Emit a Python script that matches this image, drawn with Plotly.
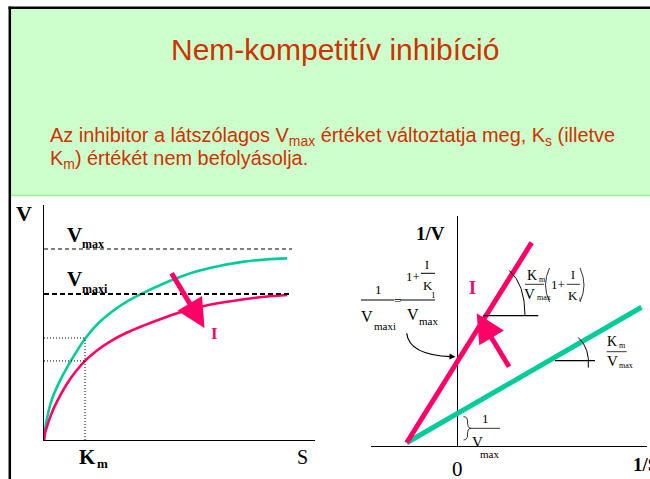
import plotly.graph_objects as go

# Michaelis-Menten curves (left): S in units of Km, V in units of Vmax
s_values = [0, 0.03, 0.08, 0.16, 0.24, 0.4, 0.57, 0.75, 1.0, 1.3, 1.63, 2.0, 2.44, 2.85,
            3.25, 3.65, 4.07, 4.88, 5.4, 5.93]
v_without_inhibitor = [0, 0.06, 0.12, 0.19, 0.24, 0.315, 0.383, 0.448, 0.530, 0.606, 0.668,
                       0.722, 0.772, 0.813, 0.848, 0.878, 0.902, 0.934, 0.945, 0.951]
v_with_inhibitor = [0, 0.04, 0.075, 0.125, 0.167, 0.235, 0.297, 0.352, 0.414, 0.47, 0.518,
                    0.56, 0.6, 0.634, 0.664, 0.688, 0.709, 0.737, 0.75, 0.759]
vmax = 1.0
vmax_i = 0.764
km = 1.0
v_at_km = 0.534
vi_at_km = 0.414
s_end = 6.05

# Lineweaver-Burk lines (right)
inv_s_without = [-1.0, 3.64]
inv_v_without = [0.1, 4.23]
inv_s_with = [-1.0, 1.47]
inv_v_with = [0.1, 6.20]

W, H = 650, 479
GREEN = "#00cc99"
PINK = "#ff0066"
RED_TXT = "#cc3300"
SERIF = "Liberation Serif"
SANS = "Liberation Sans"


def px(x):
    return x / W


def py(y):
    return 1 - y / H


def seg(x0, y0, x1, y1, w=1, color="black"):
    return dict(type="line", xref="paper", yref="paper",
                x0=px(x0), y0=py(y0), x1=px(x1), y1=py(y1),
                line=dict(color=color, width=w))


def curve(pts, w=1):
    # pts: start, then (control, end) pairs for quadratic beziers
    d = f"M {px(pts[0][0])},{py(pts[0][1])}"
    for i in range(1, len(pts), 2):
        c, e = pts[i], pts[i + 1]
        d += f" Q {px(c[0])},{py(c[1])} {px(e[0])},{py(e[1])}"
    return dict(type="path", xref="paper", yref="paper", path=d,
                line=dict(color="black", width=w))


def label(x, y, text, size, color="black", family=SERIF, xanchor="center", yanchor="middle"):
    return dict(x=px(x), y=py(y), xref="paper", yref="paper", text=text, showarrow=False,
                xanchor=xanchor, yanchor=yanchor, font=dict(size=size, color=color, family=family))


fig = go.Figure()

# left: V vs S
fig.add_trace(go.Scatter(x=s_values, y=v_without_inhibitor, mode="lines", line_shape="spline",
                         line=dict(color=GREEN, width=2.6), xaxis="x", yaxis="y"))
fig.add_trace(go.Scatter(x=s_values, y=v_with_inhibitor, mode="lines", line_shape="spline",
                         line=dict(color=PINK, width=2.6), xaxis="x", yaxis="y"))
fig.add_trace(go.Scatter(x=[0, s_end], y=[vmax, vmax], mode="lines",
                         line=dict(color="black", width=1.2, dash="4px,3px"), xaxis="x", yaxis="y"))
fig.add_trace(go.Scatter(x=[0, s_end], y=[vmax_i, vmax_i], mode="lines",
                         line=dict(color="black", width=2, dash="5px,3px"), xaxis="x", yaxis="y"))
fig.add_trace(go.Scatter(x=[km, km], y=[0, v_at_km], mode="lines",
                         line=dict(color="black", width=1, dash="1px,2px"), xaxis="x", yaxis="y"))
for v in [v_at_km, vi_at_km]:
    fig.add_trace(go.Scatter(x=[0, km], y=[v, v], mode="lines",
                             line=dict(color="black", width=1, dash="1px,2px"), xaxis="x", yaxis="y"))

# right: 1/V vs 1/S
fig.add_trace(go.Scatter(x=inv_s_without, y=inv_v_without, mode="lines",
                         line=dict(color=GREEN, width=5), xaxis="x2", yaxis="y2"))
fig.add_trace(go.Scatter(x=inv_s_with, y=inv_v_with, mode="lines",
                         line=dict(color=PINK, width=5), xaxis="x2", yaxis="y2"))

shapes = [
    dict(type="rect", xref="paper", yref="paper", x0=px(9), x1=px(650), y0=py(195), y1=py(7),
         fillcolor="#ccffcc", line=dict(width=0), layer="below"),
    seg(9, 195.5, 650, 195.5, 1.5, "#99ee99"),
    seg(8.5, 7.8, 650, 7.8, 2.5),
    seg(9.8, 6.5, 9.8, 479, 2.5),
    # formula on the left of the LB plot
    seg(361, 300, 394.3, 300),
    seg(400, 300, 435, 300),
    seg(421, 273.3, 435, 273.3),
    curve([(406.7, 333.3), (409, 355), (451, 356.7)], 1.2),
    # slope marks
    seg(483.3, 315.7, 538.3, 315.7, 1.2),
    curve([(509.3, 270.5), (525, 284), (525, 315.7)], 1),
    seg(555, 360.7, 595, 360.7, 1.2),
    curve([(578.3, 337.5), (590, 348), (588.3, 367.7)], 1),
    # Km/Vmax (1 + I/Ki)
    seg(525, 284.3, 544, 284.3, 0.8),
    seg(566.7, 284.3, 580, 284.3, 0.8),
    curve([(549.5, 268), (541.5, 285), (549.5, 302)], 0.8),
    curve([(580, 268), (588, 285), (580, 302)], 0.8),
    # Km/Vmax
    seg(606.7, 351.7, 626.7, 351.7, 0.8),
    # } 1/Vmax
    curve([(463.5, 416.7), (467.5, 416.7), (467.5, 421), (467.5, 428.3), (470.5, 428.3)], 0.8),
    curve([(470.5, 428.3), (467.5, 428.3), (467.5, 435), (467.5, 440), (463.5, 440)], 0.8),
    seg(470, 428.3, 500, 428.3, 0.8),
]

annotations = [
    label(335, 49.6, "Nem-kompetitív inhibíció", 30, RED_TXT, SANS),
    label(48, 122.3, "Az inhibitor a látszólagos V<sub>max</sub> értéket változtatja meg, K<sub>s</sub> (illetve",
          19.9, RED_TXT, SANS, xanchor="left", yanchor="top"),
    label(48, 144.9, "K<sub>m</sub>) értékét nem befolyásolja.", 19.9, RED_TXT, SANS,
          xanchor="left", yanchor="top"),
    # left plot labels
    label(23.7, 213, "<b>V</b>", 22),
    label(74.2, 234.5, "<b>V</b>", 21),
    label(79.5, 244, "<b>max</b>", 12, xanchor="left"),
    label(74.2, 279.2, "<b>V</b>", 21),
    label(79.5, 288.5, "<b>maxi</b>", 12, xanchor="left"),
    label(87.5, 457.3, "<b>K</b>", 21),
    label(94.5, 463.5, "<b>m</b>", 13, xanchor="left"),
    label(302.5, 457.3, "S", 20),
    label(214, 333, "<b>I</b>", 17, PINK),
    # right plot labels
    label(430, 233, "<b>1/V</b>", 19),
    label(473, 288.3, "<b>I</b>", 18, PINK),
    label(457.2, 468.5, "0", 21),
    label(631, 464, "<b>1/S</b>", 19, xanchor="left"),
    # 1/Vmaxi = (1 + I/K1)/Vmax
    label(378, 289, "1", 13),
    label(366.7, 316, "V", 16),
    label(371.5, 326, "maxi", 11, xanchor="left"),
    label(397.2, 300.5, "=", 13),
    label(413.3, 276, "1+", 13),
    label(426.5, 264.5, "I", 12),
    label(428, 285, "K", 13),
    label(433, 295, "1", 9),
    label(413, 314.8, "V", 16),
    label(416.5, 320.5, "max", 11, xanchor="left"),
    # Km/Vmax (1 + I/Ki)
    label(531.7, 275.3, "K", 14),
    label(536.5, 279, "m", 8, xanchor="left"),
    label(529.7, 293.8, "V", 15),
    label(534.5, 297.8, "max", 8, xanchor="left"),
    label(558.3, 284.2, "1+", 13),
    label(572.8, 275.3, "I", 12),
    label(573, 295, "K", 13),
    label(577.3, 298.5, "i", 6, xanchor="left"),
    # Km/Vmax
    label(611.7, 341.7, "K", 14),
    label(616.5, 345.5, "m", 8, xanchor="left"),
    label(612, 361, "V", 15),
    label(616.5, 365.2, "max", 8, xanchor="left"),
    # 1/Vmax
    label(485.8, 418, "1", 13),
    label(477.5, 441.5, "V", 15),
    label(478.3, 454, "max", 11, xanchor="left"),
    # arrows
    dict(x=px(204.5), y=py(328), xref="paper", yref="paper", ax=-33.8, ay=-56.3, text="",
         showarrow=True, arrowhead=2, arrowsize=1.15, arrowwidth=5, arrowcolor=PINK),
    dict(x=px(476.7), y=py(313.3), xref="paper", yref="paper", ax=33.3, ay=55, text="",
         showarrow=True, arrowhead=2, arrowsize=1.15, arrowwidth=5, arrowcolor=PINK),
    dict(x=px(455.5), y=py(356.7), xref="paper", yref="paper", ax=-7, ay=-0.3, text="",
         showarrow=True, arrowhead=2, arrowsize=1, arrowwidth=1.2, arrowcolor="black"),
]

axis_common = dict(showgrid=False, ticks="", showticklabels=False, fixedrange=True)

fig.update_layout(
    width=W, height=H,
    margin=dict(l=0, r=0, t=0, b=0),
    paper_bgcolor="white", plot_bgcolor="rgba(0,0,0,0)",
    showlegend=False, hovermode=False,
    xaxis=dict(domain=[px(44), px(315)], range=[0, 6.61], showline=True, linecolor="black",
               linewidth=1.3, zeroline=False, anchor="y", **axis_common),
    yaxis=dict(domain=[py(440), py(205)], range=[0, 1.2304], showline=True, linecolor="black",
               linewidth=1.3, zeroline=False, anchor="x", **axis_common),
    xaxis2=dict(domain=[px(370.7), px(647)], range=[-1.711, 3.749], showline=True,
                linecolor="black", linewidth=1.3, zeroline=True, zerolinecolor="black",
                zerolinewidth=1, anchor="y2", **axis_common),
    yaxis2=dict(domain=[py(446), py(216)], range=[0, 7.012], showline=False, zeroline=False,
                anchor="x2", **axis_common),
    shapes=shapes,
    annotations=annotations,
)

fig.write_html("out.html", config={"displayModeBar": False},
               post_script="document.body.style.margin='0';")
